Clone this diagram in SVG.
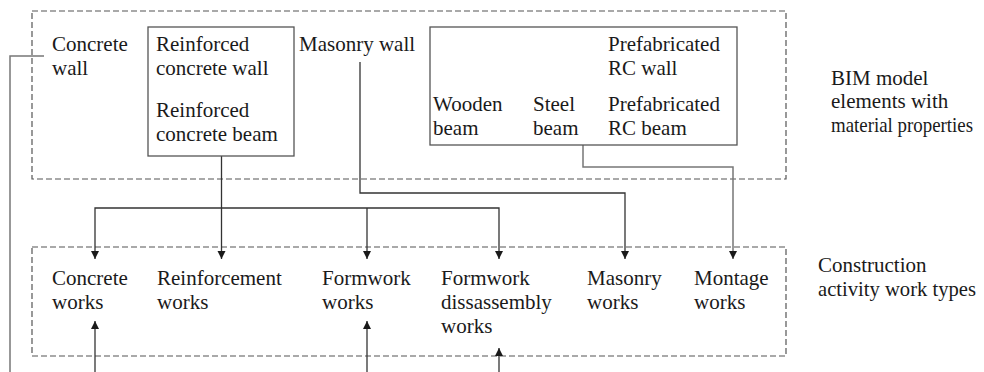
<svg xmlns="http://www.w3.org/2000/svg" width="984" height="372" viewBox="0 0 984 372">
<defs>
<marker id="ah" viewBox="0 0 8 10" refX="8" refY="5" markerWidth="8" markerHeight="10" markerUnits="userSpaceOnUse" orient="auto">
<path d="M0,1 L8,5 L0,9 Z" fill="#1a1a1a"/>
</marker>
</defs>
<rect width="984" height="372" fill="#fff"/>
<g id="bim-group">
<rect x="32" y="11" width="754" height="168" fill="none" stroke="#555" stroke-width="1.2" stroke-dasharray="6 3"/>
<text x="831" y="85" font-family="Liberation Serif" font-size="21" fill="#1a1a1a">BIM model</text>
<text x="831" y="108" font-family="Liberation Serif" font-size="21" fill="#1a1a1a">elements with</text>
<text x="831" y="132" font-family="Liberation Serif" font-size="21" fill="#1a1a1a" textLength="142" lengthAdjust="spacingAndGlyphs">material properties</text>
</g>
<g id="work-group">
<rect x="32" y="247" width="754" height="109" fill="none" stroke="#555" stroke-width="1.2" stroke-dasharray="6 3"/>
<text x="818" y="272" font-family="Liberation Serif" font-size="21" fill="#1a1a1a">Construction</text>
<text x="818" y="296" font-family="Liberation Serif" font-size="21" fill="#1a1a1a" textLength="158" lengthAdjust="spacingAndGlyphs">activity work types</text>
</g>
<g id="connectors" fill="none">
<g stroke="#777" stroke-width="1.5">
<polyline points="44,56 10,56 10,372"/>
<polyline points="583,145 583,167 733,167 733,259" marker-end="url(#ah)"/>
</g>
<g stroke="#333" stroke-width="1.3">
<polyline points="221.5,156 221.5,259" marker-end="url(#ah)"/>
<polyline points="221.5,208 95,208 95,259" marker-end="url(#ah)"/>
<polyline points="221.5,208 499,208 499,259" marker-end="url(#ah)"/>
<polyline points="367,208 367,259" marker-end="url(#ah)"/>
<polyline points="360,62 360,193 625,193 625,259" marker-end="url(#ah)"/>
<polyline points="95,372 95,321" marker-end="url(#ah)"/>
<polyline points="367,372 367,321" marker-end="url(#ah)"/>
<polyline points="499,372 499,348" marker-end="url(#ah)"/>
</g>
</g>
<g id="concrete-wall">
<text x="52" y="51" font-family="Liberation Serif" font-size="21" fill="#1a1a1a">Concrete</text>
<text x="52" y="75" font-family="Liberation Serif" font-size="21" fill="#1a1a1a">wall</text>
</g>
<g id="reinforced">
<rect x="148" y="27" width="146" height="129" fill="#fff" stroke="#555" stroke-width="1.3"/>
<text x="156" y="51" font-family="Liberation Serif" font-size="21" fill="#1a1a1a">Reinforced</text>
<text x="156" y="75" font-family="Liberation Serif" font-size="21" fill="#1a1a1a">concrete wall</text>
<text x="156" y="117" font-family="Liberation Serif" font-size="21" fill="#1a1a1a">Reinforced</text>
<text x="156" y="141" font-family="Liberation Serif" font-size="21" fill="#1a1a1a">concrete beam</text>
</g>
<g id="masonry-wall">
<text x="299" y="51" font-family="Liberation Serif" font-size="21" fill="#1a1a1a">Masonry wall</text>
</g>
<g id="prefab">
<rect x="430" y="27" width="307" height="118" fill="#fff" stroke="#555" stroke-width="1.3"/>
<text x="608" y="51" font-family="Liberation Serif" font-size="21" fill="#1a1a1a">Prefabricated</text>
<text x="608" y="75" font-family="Liberation Serif" font-size="21" fill="#1a1a1a">RC wall</text>
<text x="433" y="111" font-family="Liberation Serif" font-size="21" fill="#1a1a1a">Wooden</text>
<text x="433" y="135" font-family="Liberation Serif" font-size="21" fill="#1a1a1a">beam</text>
<text x="533" y="111" font-family="Liberation Serif" font-size="21" fill="#1a1a1a">Steel</text>
<text x="533" y="135" font-family="Liberation Serif" font-size="21" fill="#1a1a1a">beam</text>
<text x="608" y="111" font-family="Liberation Serif" font-size="21" fill="#1a1a1a">Prefabricated</text>
<text x="608" y="135" font-family="Liberation Serif" font-size="21" fill="#1a1a1a">RC beam</text>
</g>
<g id="concrete-works">
<text x="52" y="285" font-family="Liberation Serif" font-size="21" fill="#1a1a1a">Concrete</text>
<text x="52" y="309" font-family="Liberation Serif" font-size="21" fill="#1a1a1a">works</text>
</g>
<g id="reinforcement-works">
<text x="157" y="285" font-family="Liberation Serif" font-size="21" fill="#1a1a1a">Reinforcement</text>
<text x="157" y="309" font-family="Liberation Serif" font-size="21" fill="#1a1a1a">works</text>
</g>
<g id="formwork-works">
<text x="322" y="285" font-family="Liberation Serif" font-size="21" fill="#1a1a1a">Formwork</text>
<text x="322" y="309" font-family="Liberation Serif" font-size="21" fill="#1a1a1a">works</text>
</g>
<g id="formwork-dis-works">
<text x="441" y="285" font-family="Liberation Serif" font-size="21" fill="#1a1a1a">Formwork</text>
<text x="441" y="309" font-family="Liberation Serif" font-size="21" fill="#1a1a1a">dissassembly</text>
<text x="441" y="333" font-family="Liberation Serif" font-size="21" fill="#1a1a1a">works</text>
</g>
<g id="masonry-works">
<text x="587" y="285" font-family="Liberation Serif" font-size="21" fill="#1a1a1a">Masonry</text>
<text x="587" y="309" font-family="Liberation Serif" font-size="21" fill="#1a1a1a">works</text>
</g>
<g id="montage-works">
<text x="694" y="285" font-family="Liberation Serif" font-size="21" fill="#1a1a1a">Montage</text>
<text x="694" y="309" font-family="Liberation Serif" font-size="21" fill="#1a1a1a">works</text>
</g>
</svg>
